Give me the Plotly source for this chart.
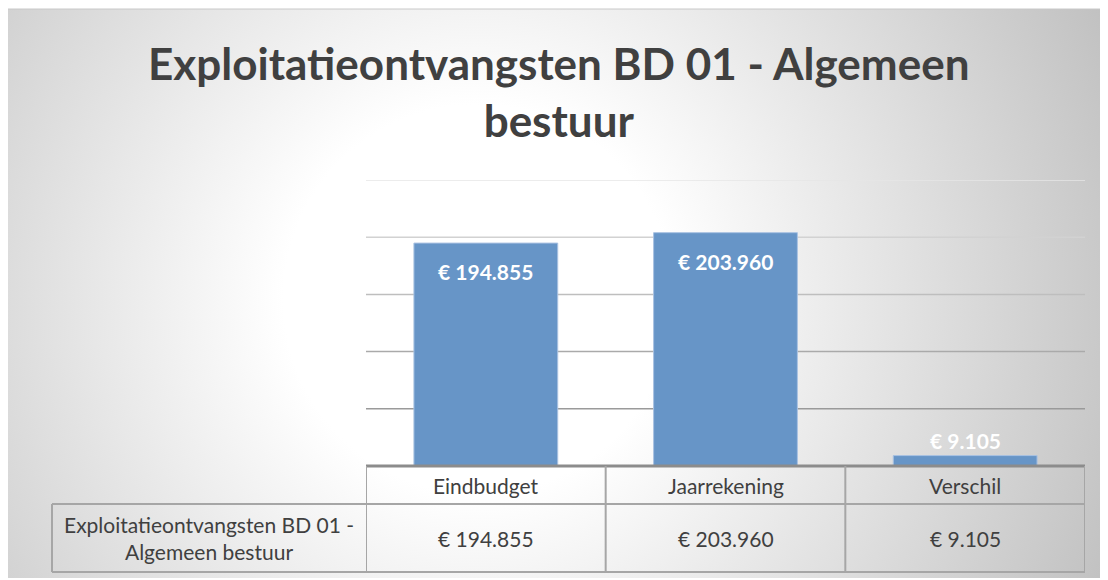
import urllib.parse
import plotly.graph_objects as go

# ---- data ----
title_lines = ["Exploitatieontvangsten BD 01 - Algemeen", "bestuur"]
categories = ["Eindbudget", "Jaarrekening", "Verschil"]
values = [194855, 203960, 9105]
series_name = ["Exploitatieontvangsten BD 01 -", "Algemeen bestuur"]
grid_ticks = [50000, 100000, 150000, 200000, 250000]
y_max = 250000

# page body adds an 8px margin; build the figure so it lands on the target pixels
OFF = 8
W, H = 1108 - OFF, 580 - OFF
FONT = "Lato"
TXT = "#404040"


def px(p):
    return (p - OFF) / W


def py(p):
    return 1 - (p - OFF) / H


def euro(v):
    return "€ " + f"{v:,}".replace(",", ".")


# radial gradient background as an svg data uri
BG_T, BG_B = 9, 578
bw, bh = W, BG_B - BG_T
svg = (
    f"<svg xmlns='http://www.w3.org/2000/svg' width='{bw}' height='{bh}'>"
    "<defs><radialGradient id='g' gradientUnits='userSpaceOnUse' cx='470' cy='290' r='720'>"
    "<stop offset='0' stop-color='#ffffff'/><stop offset='0.27' stop-color='#ffffff'/>"
    "<stop offset='1' stop-color='#bdbdbd'/></radialGradient></defs>"
    f"<rect width='{bw}' height='{bh}' fill='url(#g)'/></svg>"
)
svg_uri = "data:image/svg+xml;charset=utf-8," + urllib.parse.quote(svg)

fig = go.Figure()
fig.add_trace(go.Bar(
    x=categories, y=values,
    marker=dict(color="#6795c7", line=dict(color="#a9c2e2", width=1)),
    width=0.6, hoverinfo="skip",
))

# plot-area geometry (target pixels)
PL, PR, PT, PB = 366, 1085, 180, 466

fig.update_layout(
    width=W, height=H,
    margin=dict(l=0, r=0, t=0, b=0),
    paper_bgcolor="white",
    plot_bgcolor="rgba(0,0,0,0)",
    showlegend=False,
    xaxis=dict(domain=[px(PL), px(PR)], range=[-0.5, 2.5], showticklabels=False,
               showgrid=False, zeroline=False, showline=False, fixedrange=True),
    yaxis=dict(domain=[py(PB), py(PT)], range=[0, y_max], showticklabels=False,
               showgrid=False, zeroline=False, showline=False, fixedrange=True),
    images=[dict(source=svg_uri, xref="paper", yref="paper", x=0, y=py(BG_T),
                 sizex=1, sizey=bh / H, xanchor="left", yanchor="top",
                 sizing="stretch", layer="below")],
)

shapes = []
shapes.append(dict(type="line", xref="paper", yref="paper", x0=0, x1=1, y0=py(BG_T), y1=py(BG_T),
                   line=dict(color="#c8c8c8", width=1)))
# gridlines (lighter at top, darker toward bottom)
grid_colors = ["#9a9a9a", "#aaaaaa", "#bebebe", "#d2d2d2", "#e6e6e6"]
for t, c in zip(grid_ticks, grid_colors):
    shapes.append(dict(type="line", xref="paper", yref="y", x0=px(PL), x1=px(PR), y0=t, y1=t,
                       line=dict(color=c, width=1.5), layer="below"))

TBL = "#a6a6a6"
ROW1, ROW2 = 504, 572
LBL_L = 52
shapes.append(dict(type="line", xref="paper", yref="paper", x0=px(PL), x1=px(PR), y0=py(PB), y1=py(PB),
                   line=dict(color="#8c8c8c", width=3)))
for yy in (ROW1, ROW2):
    shapes.append(dict(type="line", xref="paper", yref="paper", x0=px(LBL_L), x1=px(PR), y0=py(yy), y1=py(yy),
                       line=dict(color=TBL, width=2)))
for i in range(len(categories) + 1):
    shapes.append(dict(type="line", xref="x", yref="paper", x0=i - 0.5, x1=i - 0.5, y0=py(PB), y1=py(ROW2),
                       line=dict(color=TBL, width=2)))
shapes.append(dict(type="line", xref="paper", yref="paper", x0=px(LBL_L), x1=px(LBL_L), y0=py(ROW1), y1=py(ROW2),
                   line=dict(color=TBL, width=2)))
fig.update_layout(shapes=shapes)

ann = []
ann.append(dict(text="<b>" + "<br>".join(title_lines) + "</b>", xref="paper", yref="paper",
                x=px(559), y=py(91), xanchor="center", yanchor="middle", showarrow=False,
                font=dict(family=FONT, size=44, color=TXT), align="center"))
for c, v in zip(categories, values):
    if v > y_max * 0.2:
        ann.append(dict(text="<b>" + euro(v) + "</b>", x=c, y=v, xref="x", yref="y", yanchor="top",
                        yshift=-14, showarrow=False, font=dict(family=FONT, size=21, color="white")))
    else:
        ann.append(dict(text="<b>" + euro(v) + "</b>", x=c, y=v, xref="x", yref="y", yanchor="bottom",
                        yshift=1, showarrow=False, font=dict(family=FONT, size=21, color="white")))
for c, v in zip(categories, values):
    ann.append(dict(text=c, x=c, y=py((PB + ROW1) / 2), xref="x", yref="paper", yanchor="middle",
                    showarrow=False, font=dict(family=FONT, size=21, color=TXT)))
    ann.append(dict(text=euro(v), x=c, y=py((ROW1 + ROW2) / 2), xref="x", yref="paper", yanchor="middle",
                    showarrow=False, font=dict(family=FONT, size=21, color=TXT)))
ann.append(dict(text="<br>".join(series_name), x=px((LBL_L + PL) / 2), y=py((ROW1 + ROW2) / 2),
                xref="paper", yref="paper", yanchor="middle", xanchor="center", align="center",
                showarrow=False, font=dict(family=FONT, size=21, color=TXT)))
fig.update_layout(annotations=ann)

fig.write_html("out.html")
